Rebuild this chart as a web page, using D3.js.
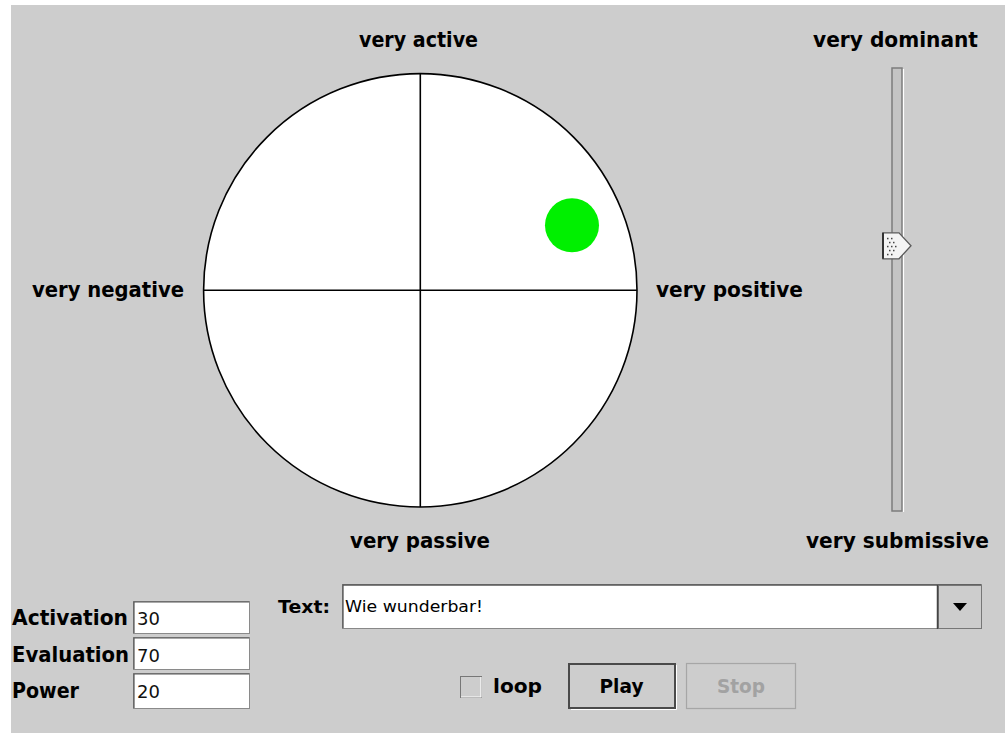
<!DOCTYPE html>
<html><head><meta charset="utf-8">
<script src="https://cdn.jsdelivr.net/npm/d3@7"></script>
<style>html,body{margin:0;padding:0;background:#fff;overflow:hidden}</style>
</head><body>
<svg id="c" width="1005" height="733"></svg>
<script>
// ---- data ----
const axisLabels = ["very active", "very passive", "very negative", "very positive"];
const powerLabels = ["very dominant", "very submissive"];
const fieldLabels = ["Activation", "Evaluation", "Power"];
const fieldValues = [30, 70, 20];
const activation = 30;
const evaluation = 70;
const power = 20;
const textValue = "Wie wunderbar!";
const buttonLabels = ["Play", "Stop"];
const loopLabel = "loop";

const svg = d3.select("#c");
const BG = "#cdcdcd";
const FONT = "'DejaVu Sans', sans-serif";

svg.append("rect").attr("x", 11).attr("y", 5).attr("width", 994).attr("height", 728).attr("fill", BG);

// ---- circle plot ----
const cx = 420.3, cy = 290.3, R = 216.7;
const x = d3.scaleLinear().domain([-100, 100]).range([cx - R, cx + R]);
const y = d3.scaleLinear().domain([-100, 100]).range([cy + R, cy - R]);

svg.append("circle").attr("cx", x(0)).attr("cy", y(0)).attr("r", R)
  .attr("fill", "#fff").attr("stroke", "#000").attr("stroke-width", 1.6);
svg.append("line").attr("x1", x(0)).attr("x2", x(0)).attr("y1", y(100)).attr("y2", y(-100))
  .attr("stroke", "#000").attr("stroke-width", 1.6);
svg.append("line").attr("x1", x(-100)).attr("x2", x(100)).attr("y1", y(0)).attr("y2", y(0))
  .attr("stroke", "#000").attr("stroke-width", 1.6);

svg.append("circle").attr("cx", x(evaluation)).attr("cy", y(activation)).attr("r", 27)
  .attr("fill", "#00f000");

function label(t, px, py, len, opts = {}) {
  return svg.append("text").attr("x", px).attr("y", py)
    .attr("font-family", FONT).attr("font-weight", opts.weight || "bold")
    .attr("font-size", opts.size || 21).attr("fill", opts.fill || "#000")
    .attr("textLength", len).attr("lengthAdjust", "spacingAndGlyphs")
    .text(t);
}
label(axisLabels[0], 359, 47, 119);
label(axisLabels[1], 350, 548, 140);
label(axisLabels[2], 32, 297, 152);
label(axisLabels[3], 656, 297, 147);

// ---- power slider ----
const sy = d3.scaleLinear().domain([-100, 100]).range([508, 71]);
label(powerLabels[0], 813, 47, 165);
label(powerLabels[1], 806, 548, 183);
svg.append("rect").attr("x", 892).attr("y", 68).attr("width", 10).attr("height", 443)
  .attr("fill", "#c4c4c4").attr("stroke", "#7c7c7c").attr("stroke-width", 1.5);
svg.append("line").attr("x1", 903.5).attr("x2", 903.5).attr("y1", 69).attr("y2", 512)
  .attr("stroke", "#fff").attr("stroke-width", 1.2);
const ty = sy(power);
const thumb = svg.append("g").attr("transform", `translate(0,${ty})`);
thumb.append("path")
  .attr("d", "M883,-13 L899,-13 L911,0 L899,13 L883,13 Z")
  .attr("fill", "#f4f4f4").attr("stroke", "#5a5a5a").attr("stroke-width", 1.3);
thumb.append("line").attr("x1", 883).attr("x2", 883).attr("y1", -13).attr("y2", 13)
  .attr("stroke", "#333").attr("stroke-width", 2);
const dots = [[887,-8],[891,-8],[889,-4],[893,-4],[887,0],[891,0],[889,4],[893,4],[887,8],[891,8],[895,0]];
thumb.selectAll("rect.d").data(dots).join("rect").attr("class", "d")
  .attr("x", d => d[0]).attr("y", d => d[1]).attr("width", 1.5).attr("height", 1.5).attr("fill", "#444");

// ---- fields ----
const rows = [625, 662, 698];
const boxes = [[601, 634], [637, 670], [673, 709]];
const labLen = [116, 117, 67];
fieldLabels.forEach((t, i) => {
  label(t, 12, rows[i], labLen[i], { size: 21 });
  const b = boxes[i];
  svg.append("rect").attr("x", 133.5).attr("y", b[0] + 0.5).attr("width", 116).attr("height", b[1] - b[0] - 1)
    .attr("fill", "#fff").attr("stroke", "#8a8a8a").attr("stroke-width", 1);
  svg.append("path").attr("d", `M134,${b[1]-1} L134,${b[0]+1} L249,${b[0]+1}`)
    .attr("fill", "none").attr("stroke", "#555").attr("stroke-width", 1.2);
  svg.append("text").attr("x", 137).attr("y", rows[i]).attr("font-family", FONT)
    .attr("font-size", 18).attr("fill", "#111").text(String(fieldValues[i]));
});

label("Text:", 278, 613, 52, { size: 18 });
svg.append("rect").attr("x", 342.5).attr("y", 584.5).attr("width", 639).attr("height", 44)
  .attr("fill", "#fff").attr("stroke", "#888").attr("stroke-width", 1);
svg.append("path").attr("d", "M343,628 L343,585 L981,585").attr("fill", "none")
  .attr("stroke", "#555").attr("stroke-width", 1.3);
svg.append("text").attr("x", 345).attr("y", 612).attr("font-family", FONT)
  .attr("font-size", 15).attr("textLength", 138).attr("lengthAdjust", "spacingAndGlyphs")
  .attr("fill", "#000").text(textValue);
svg.append("rect").attr("x", 938.5).attr("y", 585.5).attr("width", 43).attr("height", 43)
  .attr("fill", BG).attr("stroke", "#777").attr("stroke-width", 1);
svg.append("line").attr("x1", 937.5).attr("x2", 937.5).attr("y1", 585).attr("y2", 629)
  .attr("stroke", "#444").attr("stroke-width", 1.5);
svg.append("path").attr("d", "M953,603 L967,603 L960,611 Z").attr("fill", "#000");

// ---- checkbox & buttons ----
svg.append("rect").attr("x", 460.5).attr("y", 676.5).attr("width", 21).attr("height", 21)
  .attr("fill", BG).attr("stroke", "#777").attr("stroke-width", 1);
svg.append("path").attr("d", "M461,697 L481,697 L481,677").attr("fill", "none")
  .attr("stroke", "#fff").attr("stroke-width", 1.2);
label(loopLabel, 493, 693, 49, { size: 20 });

svg.append("rect").attr("x", 569).attr("y", 664).attr("width", 106).attr("height", 44)
  .attr("fill", BG).attr("stroke", "#4a4a4a").attr("stroke-width", 2);
svg.append("path").attr("d", "M571,709.5 L676.5,709.5 L676.5,665").attr("fill", "none")
  .attr("stroke", "#fff").attr("stroke-width", 1);
svg.append("text").attr("x", 621.5).attr("y", 693).attr("text-anchor", "middle")
  .attr("font-family", FONT).attr("font-weight", "bold").attr("font-size", 19)
  .attr("textLength", 44).attr("lengthAdjust", "spacingAndGlyphs").text(buttonLabels[0]);

svg.append("rect").attr("x", 686.5).attr("y", 663.5).attr("width", 109).attr("height", 45)
  .attr("fill", BG).attr("stroke", "#a6a6a6").attr("stroke-width", 1.2);
svg.append("text").attr("x", 741).attr("y", 693).attr("text-anchor", "middle")
  .attr("font-family", FONT).attr("font-weight", "bold").attr("font-size", 19).attr("fill", "#a2a2a2")
  .attr("textLength", 48).attr("lengthAdjust", "spacingAndGlyphs").text(buttonLabels[1]);
</script>
</body></html>
